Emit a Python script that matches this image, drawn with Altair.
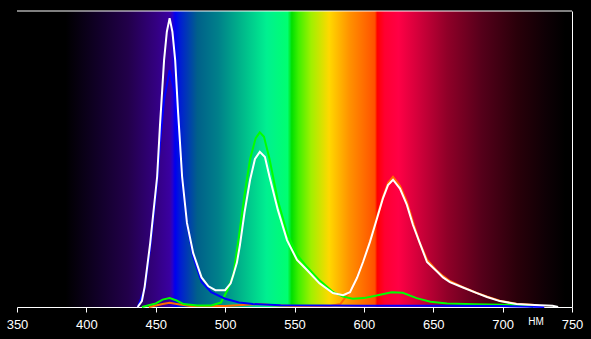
import altair as alt
import pandas as pd

# ---------------- data ----------------
WL_MIN, WL_MAX = 350, 750
TICKS = [350, 400, 450, 500, 550, 600, 650, 700, 750]

white_wl = [437, 440, 442, 446, 451, 453, 456, 458, 460, 462, 464, 466, 469, 472.5, 477, 483, 488, 493,
            500, 504, 506, 508.5, 510.7, 514, 518, 521.5, 525, 528.7, 532, 538, 544.6, 551.8, 559, 568,
            577.7, 585, 590, 595, 599.4, 604.4, 609.5, 613.8, 617.4, 621, 626, 631, 635.4, 640.4, 645.5,
            652.7, 657, 662, 671.4, 681.5, 688.7, 698, 710, 723, 736, 740]
white_val = [0.0, 0.02, 0.068, 0.216, 0.44, 0.61, 0.834, 0.93, 0.976, 0.93, 0.834, 0.666, 0.44, 0.284,
             0.182, 0.10, 0.07, 0.057, 0.057, 0.08, 0.11, 0.15, 0.21, 0.32, 0.43, 0.50, 0.524, 0.507,
             0.44, 0.328, 0.226, 0.159, 0.125, 0.08, 0.047, 0.04, 0.05, 0.098, 0.152, 0.22, 0.30,
             0.368, 0.412, 0.43, 0.40, 0.345, 0.277, 0.215, 0.152, 0.12, 0.10, 0.084, 0.066, 0.047,
             0.034, 0.02, 0.01, 0.007, 0.004, 0.0]

blue_wl = [437, 442, 446, 451, 453, 456, 460, 464, 466, 469, 472.5, 477, 483, 490, 500, 510, 520, 540,
           600, 650, 700, 730]
blue_val = [0.0, 0.06, 0.2, 0.42, 0.55, 0.70, 0.80, 0.72, 0.60, 0.43, 0.28, 0.17, 0.085, 0.05, 0.028,
            0.015, 0.01, 0.006, 0.004, 0.004, 0.003, 0.0]

green_wl = [440, 450, 455, 460, 465, 470, 480, 490, 497, 502, 506, 510, 514, 518, 522, 525, 528, 532,
            538, 545, 552, 559, 568, 578, 585, 592, 600, 610, 620, 628, 638, 648, 660, 680, 700, 715, 722]
green_val = [0.0, 0.012, 0.025, 0.03, 0.022, 0.01, 0.005, 0.005, 0.015, 0.06, 0.11, 0.24, 0.38, 0.50,
             0.57, 0.59, 0.575, 0.50, 0.36, 0.245, 0.175, 0.135, 0.09, 0.05, 0.035, 0.028, 0.03, 0.04,
             0.05, 0.048, 0.03, 0.018, 0.012, 0.009, 0.008, 0.006, 0.0]

orange_wl = [445, 455, 460, 465, 475, 500, 515, 525, 535, 550, 575, 583, 588, 592, 595, 599, 604, 609.5,
             614, 617.5, 621, 626, 631, 635.5, 640, 645.5, 652.7, 657, 662, 671, 681, 689, 698, 710,
             723, 730]
orange_val = [0.0, 0.01, 0.014, 0.01, 0.003, 0.003, 0.008, 0.01, 0.006, 0.003, 0.003, 0.01, 0.04, 0.065,
              0.1, 0.155, 0.225, 0.305, 0.375, 0.42, 0.44, 0.41, 0.355, 0.285, 0.22, 0.16, 0.122,
              0.105, 0.088, 0.068, 0.048, 0.035, 0.021, 0.011, 0.007, 0.0]

series_order = ["orange", "green", "blue", "white"]
series_colors = ["#ff6a00", "#00ff00", "#0000ff", "#ffffff"]

rows = []
for name, wl, val in [("orange", orange_wl, orange_val), ("green", green_wl, green_val),
                      ("blue", blue_wl, blue_val), ("white", white_wl, white_val)]:
    for w, v in zip(wl, val):
        rows.append({"series": name, "wl": w, "v": v, "order": series_order.index(name)})
df = pd.DataFrame(rows)

bg_df = pd.DataFrame({"x0": [WL_MIN], "x1": [WL_MAX], "y0": [0.0], "y1": [1.0]})

# ---------------- chart ----------------
xscale = alt.Scale(domain=[WL_MIN, WL_MAX], nice=False, zero=False)
yscale = alt.Scale(domain=[0, 1], nice=False)

stops = [
    (0.0, "#000000"), (0.0875, "#000000"), (0.15, "#12002a"), (0.2, "#22004a"),
    (0.25, "#330080"), (0.275, "#3a00a0"), (0.28, "#2800c8"), (0.285, "#0000f0"),
    (0.295, "#0020d0"), (0.325, "#00608a"), (0.3625, "#00808a"), (0.4, "#00b08a"),
    (0.45, "#00f090"), (0.4875, "#00ff70"), (0.495, "#00e000"), (0.5075, "#40f000"),
    (0.53, "#a0f000"), (0.5625, "#ffd800"), (0.6, "#ff9000"), (0.645, "#ff5000"),
    (0.649, "#ff0000"), (0.6625, "#ff0030"), (0.6875, "#ff0045"), (0.725, "#d0003a"),
    (0.775, "#900028"), (0.8375, "#55001a"), (0.9, "#2a000a"), (0.95, "#100005"),
    (0.9875, "#000000"), (1.0, "#000000"),
]
gradient = alt.Gradient(
    gradient="linear",
    stops=[alt.GradientStop(offset=o, color=c) for o, c in stops],
    x1=0, x2=1, y1=0, y2=0,
)

bg = alt.Chart(bg_df).mark_rect(color=gradient).encode(
    x=alt.X("x0:Q", scale=xscale,
            axis=alt.Axis(values=TICKS, format="d", title="НМ", titleX=518.5, titleY=9,
                          titleAlign="center", titleBaseline="top", titleFontSize=10,
                          titleFontWeight="normal", titleColor="white", titleFont="Liberation Sans",
                          labelFontSize=13, labelColor="white", labelFont="Liberation Sans",
                          tickColor="white", tickSize=5, domainColor="white", domainWidth=1,
                          tickWidth=1, labelPadding=6, grid=False, labelFlush=False)),
    x2="x1:Q",
    y=alt.Y("y0:Q", scale=yscale,
            axis=alt.Axis(orient="right", title=None, labels=False, ticks=False, grid=False,
                          domainColor="white", domainWidth=1)),
    y2="y1:Q",
)

top_rule = alt.Chart(bg_df).mark_rule(color="white", strokeWidth=1).encode(
    x=alt.X("x0:Q", scale=xscale), x2="x1:Q", y=alt.Y("y1:Q", scale=yscale)
)

lines = alt.Chart(df).mark_line(strokeWidth=2, interpolate="linear").encode(
    x=alt.X("wl:Q", scale=xscale),
    y=alt.Y("v:Q", scale=yscale),
    color=alt.Color("series:N", scale=alt.Scale(domain=series_order, range=series_colors), legend=None),
    order=alt.Order("order:Q"),
    detail="series:N",
)

chart = alt.layer(bg, lines, top_rule).properties(
    width=555, height=296,
    background="black",
    padding={"left": 17, "top": 11, "right": 19, "bottom": 32},
    autosize=alt.AutoSizeParams(type="none"),
).configure_view(stroke=None)

chart.save("out.html", embed_options={"renderer": "svg", "actions": False})
